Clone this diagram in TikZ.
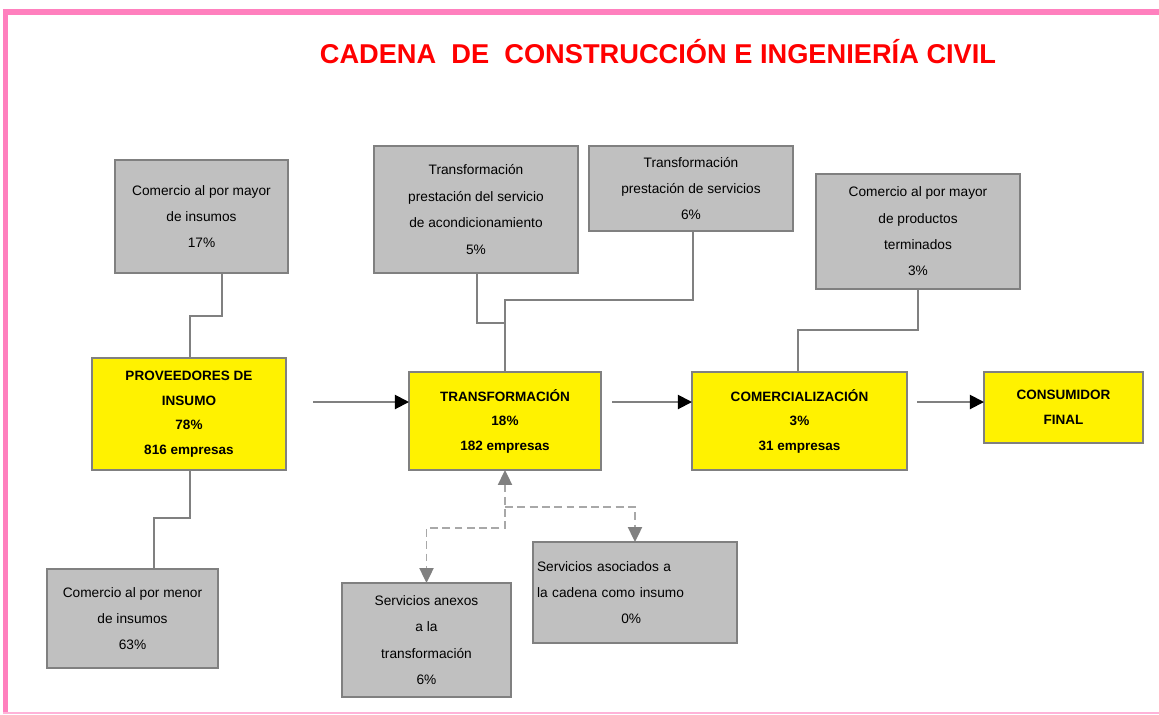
\documentclass[tikz,border=0pt]{standalone}
\usepackage{fontspec}
\setmainfont{Liberation Sans}
\usetikzlibrary{arrows.meta, positioning}
\usepackage{xcolor}
\definecolor{pinkline}{RGB}{255, 128, 190}
\definecolor{boxgray}{RGB}{192, 192, 192}
\definecolor{edgegray}{RGB}{128, 128, 128}
\definecolor{dashgray}{RGB}{168, 168, 168}
\tikzset{
    sz/.style 2 args={minimum width=#1*0.02cm, minimum height=#2*0.02cm},
    gbox/.style={draw=edgegray, line width=0.9pt, fill=boxgray, align=center, outer sep=0pt, inner sep=2pt, font=\fontsize{7.8}{15}\selectfont},
    ybox/.style={draw=edgegray, line width=0.9pt, fill=yellow, align=center, outer sep=0pt, inner sep=2pt, font=\fontsize{7.7}{14}\selectfont\bfseries},
    link/.style={draw=edgegray, line width=0.85pt},
    flow/.style={draw=edgegray, line width=1.1pt, -{Triangle[length=8pt, width=8pt, color=black]}},
    dlink/.style={draw=dashgray, line width=1.1pt, dash pattern=on 4.5pt off 2.5pt}
}

\begin{document}
\begin{tikzpicture}[x=0.02cm, y=-0.02cm]
    \useasboundingbox (0,0) rectangle (1159,714);

    % marco
    \draw[pinkline, line width=3.4pt] (3,12) -- (1159,12);
    \draw[pinkline, line width=2.8pt] (5.5,9) -- (5.5,714);
    \draw[pinkline!60, line width=1.5pt] (3,713) -- (1159,713);

    \node[text=red, font=\fontsize{15.5}{18}\selectfont\bfseries] (title) at (658,52) {CADENA\ \ DE\ \ CONSTRUCCIÓN E INGENIERÍA CIVIL};

    % eslabones
    \node[ybox, sz={194}{112}] (prov) at (189,414) {PROVEEDORES DE\\INSUMO\\78\%\\816 empresas};
    \node[ybox, sz={192}{98}] (trans) at (505,421) {TRANSFORMACIÓN\\18\%\\182 empresas};
    \node[ybox, sz={215}{98}] (comer) at (799.5,421) {COMERCIALIZACIÓN\\3\%\\31 empresas};
    \node[ybox, sz={159}{71}] (cons) at (1063.5,407.5) {CONSUMIDOR\\FINAL};

    % actividades
    \node[gbox, sz={173}{113}] (mayins) at (201.5,216.5) {Comercio al por mayor\\de insumos\\17\%};
    \node[gbox, sz={204}{127}] (acond) at (476,209.5) {Transformación\\prestación del servicio\\de acondicionamiento\\5\%};
    \node[gbox, sz={204}{85}] (presta) at (691,188.5) {Transformación\\prestación de servicios\\6\%};
    \node[gbox, sz={204}{115}] (mayprod) at (918,231.5) {Comercio al por mayor\\de productos\\terminados\\3\%};
    \node[gbox, sz={171}{99}] (menins) at (132.5,618.5) {Comercio al por menor\\de insumos\\63\%};
    \node[gbox, sz={169}{114}] (anexos) at (426.5,640) {Servicios anexos\\a la\\transformación\\6\%};
    \node[gbox, sz={204}{101}, align=left, text width=196*0.02cm] (asoc) at (635,592.5) {Servicios asociados a\\la cadena como insumo\\\hspace*{48pt}0\%};

    % flujo principal
    \coordinate (f1) at (313,402);
    \coordinate (f2) at (612,402);
    \coordinate (f3) at (917,402);
    \draw[flow] (f1) -- (f1 -| trans.west);
    \draw[flow] (f2) -- (f2 -| comer.west);
    \draw[flow] (f3) -- (f3 -| cons.west);

    % conexiones
    \draw[link] (mayins.south -| 222,0) |- (190,316) -- (prov.north -| 190,0);
    \draw[link] (prov.south -| 190,0) |- (154,518) -- (menins.north -| 154,0);
    \draw[link] (acond.south -| 477,0) |- (505,323);
    \draw[link] (presta.south -| 693,0) |- (505,300) -- (trans.north);
    \draw[link] (mayprod.south) |- (798,330) -- (comer.north -| 798,0);

    % servicios
    \draw[dlink, {Triangle[length=8.5pt, width=8pt, color=edgegray]}-{Triangle[length=8.5pt, width=8pt, color=edgegray]}] (trans.south) -- (505,528) -| (anexos.north);
    \draw[dlink, -{Triangle[length=8.5pt, width=8pt, color=edgegray]}] (505,507) -| (asoc.north);
\end{tikzpicture}
\end{document}
